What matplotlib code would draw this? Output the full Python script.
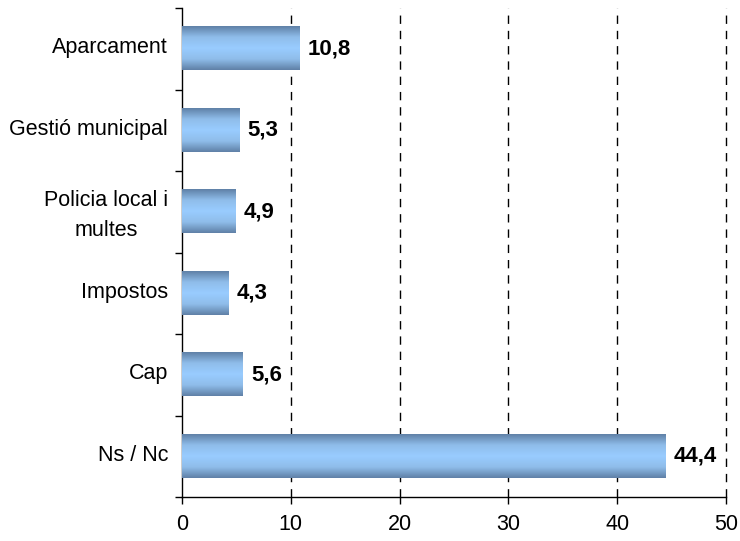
import matplotlib
matplotlib.use("Agg")
import matplotlib.pyplot as plt
import matplotlib.transforms as mtransforms
import numpy as np
from matplotlib.colors import LinearSegmentedColormap

categories = ["Aparcament", "Gestió municipal", "Policia local i\nmultes", "Impostos", "Cap", "Ns / Nc"]
values = [10.8, 5.3, 4.9, 4.3, 5.6, 44.4]
value_labels = ["10,8", "5,3", "4,9", "4,3", "5,6", "44,4"]
xticks = [0, 10, 20, 30, 40, 50]

plt.rcParams['font.family'] = ['Liberation Sans', 'DejaVu Sans']

fig = plt.figure(figsize=(7.4, 5.41), dpi=100)
ax = fig.add_axes([182/740, 1-497/541, (726-182)/740, (497-8)/541])

cmap = LinearSegmentedColormap.from_list("bar", ["#5f80a6", "#8fbdea", "#99ccff", "#8fbdea", "#5f80a6"])
grad = np.linspace(0, 1, 256).reshape(-1, 1)
h = 0.53
ypos = np.arange(len(categories))
for y, v in zip(ypos, values):
    ax.imshow(grad, cmap=cmap, aspect='auto', extent=[0, v, y + h/2, y - h/2],
              interpolation='bicubic', zorder=3)

for y, v, lab in zip(ypos, values, value_labels):
    ax.text(v + 0.75, y, lab, va='center', ha='left', fontsize=16, fontweight='bold', zorder=4)

ax.set_xlim(0, 50)
ax.set_ylim(len(categories) - 0.5, -0.5)
ax.set_xticks(xticks)
ax.set_xticklabels([str(t) for t in xticks], fontsize=15.5)
ax.set_yticks(ypos)
ax.set_yticklabels(categories, fontsize=15.5, multialignment='center', linespacing=1.6)
ax.set_yticks(np.arange(-0.5, len(categories), 1), minor=True)
ax.tick_params(axis='y', which='major', length=0, pad=10)
ax.tick_params(axis='y', which='minor', length=5, width=1, direction='out')
ax.tick_params(axis='x', which='major', length=5, width=1, direction='out', pad=7)

offset = mtransforms.ScaledTranslation(0, 2.5/72, fig.dpi_scale_trans)
for lbl in ax.get_yticklabels():
    lbl.set_transform(lbl.get_transform() + offset)

for x in xticks[1:]:
    ax.axvline(x, color='black', linestyle=(0, (6, 5)), linewidth=1, zorder=1, clip_on=False)

for s in ['top', 'right']:
    ax.spines[s].set_visible(False)
ax.spines['left'].set_linewidth(1)
ax.spines['bottom'].set_linewidth(1)
ax.set_facecolor('white')

fig.savefig("out.png", dpi=100)
